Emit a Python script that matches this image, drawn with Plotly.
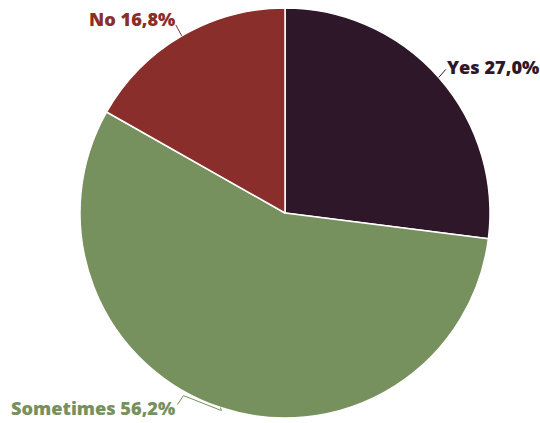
import math
import plotly.graph_objects as go

# Survey answers and their shares (percent)
labels = ["Yes", "Sometimes", "No"]
values = [27.0, 56.2, 16.8]
colors = ["#2d1729", "#76915d", "#8a2e2b"]

W, H = 540, 423
ML, MR, MT, MB = 80, 50, 8, 5
PW, PH = W - ML - MR, H - MT - MB

fig = go.Figure(go.Pie(
    labels=labels,
    values=values,
    sort=False,
    direction="clockwise",
    rotation=0,
    marker=dict(colors=colors, line=dict(color="white", width=1.5)),
    textinfo="none",
    hoverinfo="label+percent",
    showlegend=False,
))


def to_paper(px, py):
    return (px - ML) / PW, (H - MB - py) / PH


# pie geometry in pixels
cx, cy = ML + PW / 2, MT + PH / 2
r = min(PW, PH) / 2

total = sum(values)
cum = 0.0
mids = []
for v in values:
    mids.append(math.radians((cum + v / 2) / total * 360))
    cum += v

shapes = []
annotations = []
# label placement: (leader path offsets in px from edge point, text anchor offset, xanchor)
label_style = {
    "Yes": dict(path=[(0, 0), (7, -8)], text=(6, -10), xanchor="left"),
    "No": dict(path=[(0, 0), (-6, -11)], text=(-5, -17), xanchor="right"),
    "Sometimes": dict(path=[(0, 0), (1, 3), (-37, -12), (-43, -3)], text=(-43, 0), xanchor="right"),
}
for lab, val, col, a in zip(labels, values, colors, mids):
    ex = cx + r * math.sin(a)
    ey = cy - r * math.cos(a)
    st = label_style[lab]
    pts = [to_paper(ex + dx, ey + dy) for dx, dy in st["path"]]
    d = "M " + " L ".join(f"{x},{y}" for x, y in pts)
    shapes.append(dict(type="path", xref="paper", yref="paper", path=d,
                       line=dict(color=col, width=1)))
    tx, ty = to_paper(ex + st["text"][0], ey + st["text"][1])
    annotations.append(dict(
        x=tx, y=ty, xref="paper", yref="paper", showarrow=False,
        xanchor=st["xanchor"], yanchor="middle",
        text=f"{lab} {val:.1f}%".replace(".", ","),
        font=dict(family="Open Sans", size=18.2, color=col, weight=800),
    ))

fig.update_layout(
    width=W, height=H,
    margin=dict(l=ML, r=MR, t=MT, b=MB),
    paper_bgcolor="white", plot_bgcolor="white",
    shapes=shapes, annotations=annotations,
)

fig.write_html("out.html")
